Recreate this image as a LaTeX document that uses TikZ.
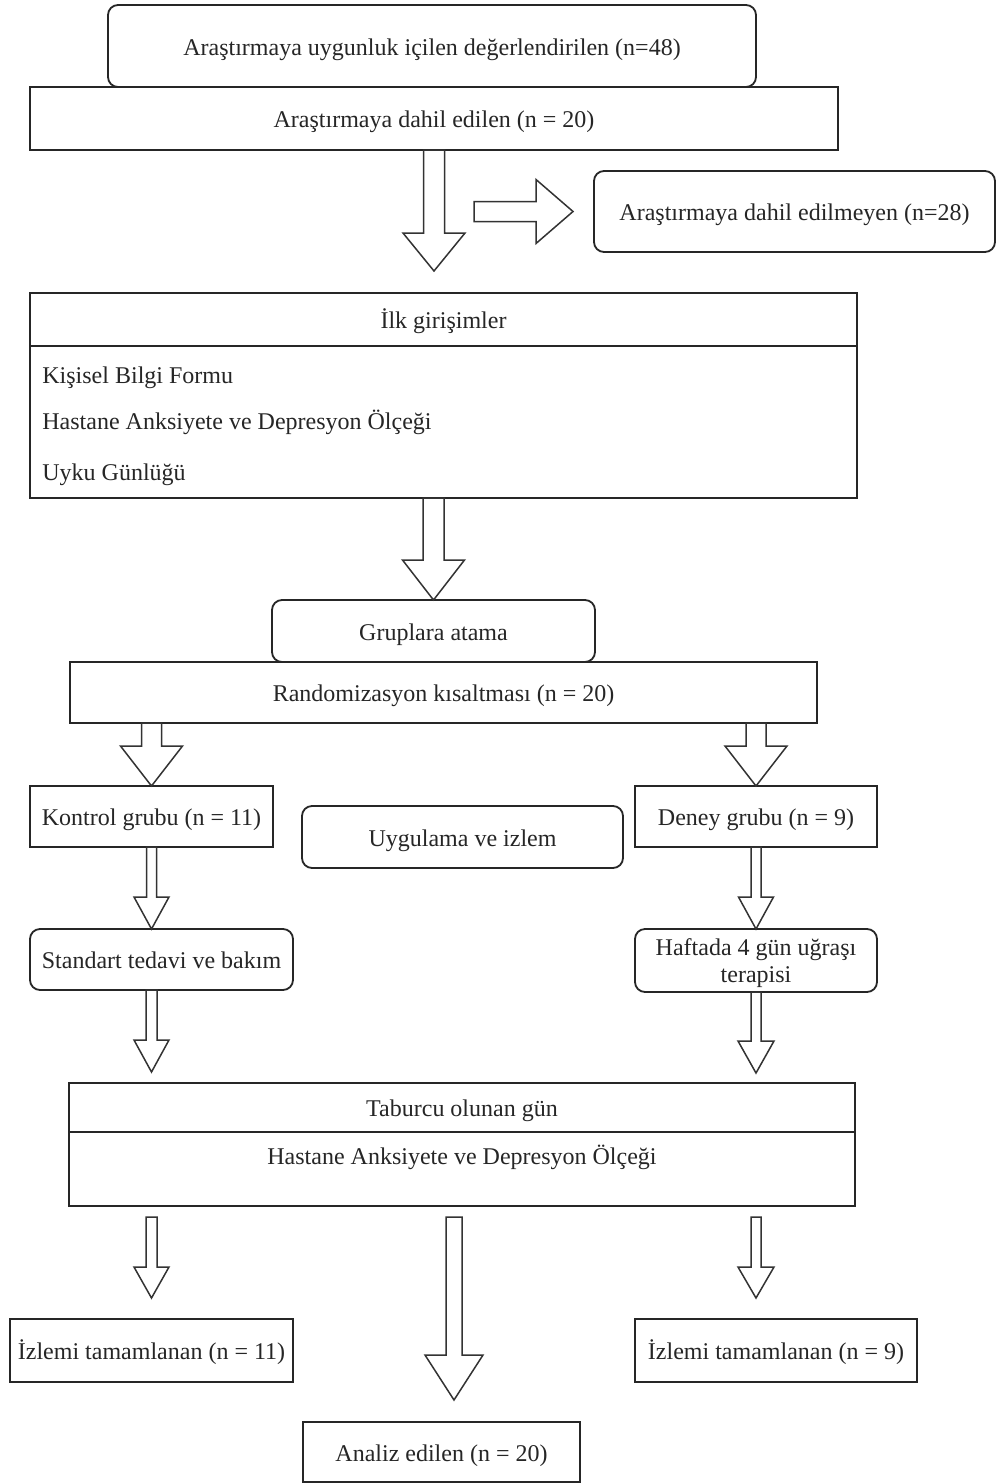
\documentclass[tikz,border=0pt]{standalone}
\usepackage{fontspec}
\setmainfont{Liberation Serif}
\usetikzlibrary{calc}
\usetikzlibrary{positioning}

% hollow block arrows: start, tip, head length, shaft half width, head half width
\newcommand{\hollowdown}[5]{%
    \draw[hollow] ($(#1)+(-#4,0)$) -- ($(#2)+(-#4,-#3)$) -- ($(#2)+(-#5,-#3)$) -- (#2)
        -- ($(#2)+(#5,-#3)$) -- ($(#2)+(#4,-#3)$) -- ($(#1)+(#4,0)$) -- cycle;}
\newcommand{\hollowright}[5]{%
    \draw[hollow] ($(#1)+(0,-#4)$) -- ($(#2)+(-#3,-#4)$) -- ($(#2)+(-#3,-#5)$) -- (#2)
        -- ($(#2)+(-#3,#5)$) -- ($(#2)+(-#3,#4)$) -- ($(#1)+(0,#4)$) -- cycle;}

\begin{document}
\begin{tikzpicture}[x=0.5pt, y=-0.5pt,
        every node/.style={font=\fontsize{12pt}{13.5pt}\selectfont, text=black!85},
        box/.style={rectangle, draw=black!85, line width=0.9pt, fill=white, inner sep=0pt, outer sep=0pt, text height=9pt, text depth=0pt},
        roundbox/.style={box, rounded corners=5pt},
        item/.style={anchor=west, inner sep=0pt, text height=9pt, text depth=0pt},
        hollow/.style={draw=black!80, line width=0.75pt, fill=white, line join=miter}]
            \fill[white] (0,0) rectangle (996,1484);
            \useasboundingbox (0,0) rectangle (996,1484);

            % eligibility
            \node[roundbox, minimum width=324pt, minimum height=41pt] (uygun) at (432,46) {Araştırmaya uygunluk içilen değerlendirilen (n=48)};
            \node[box, minimum width=404pt, minimum height=31.5pt] (dahil) at (434,118.5) {Araştırmaya dahil edilen (n = 20)};
            \node[roundbox, minimum width=200.5pt, minimum height=40.5pt] (disari) at (794.5,211.5) {Araştırmaya dahil edilmeyen (n=28)};

            % first measurements
            \node[box, minimum width=413.5pt, minimum height=26.5pt] (ilkhead) at (443.5,319.5) {İlk girişimler};
            \node[box, minimum width=413.5pt, minimum height=76pt, below=0pt of ilkhead] (ilkbody) {};
            \node[item] (kisisel) at (42,374) {Kişisel Bilgi Formu};
            \node[item] (hads1) at (42,420) {Hastane Anksiyete ve Depresyon Ölçeği};
            \node[item] (uyku) at (42,471) {Uyku Günlüğü};

            % allocation
            \node[roundbox, minimum width=161.5pt, minimum height=31pt] (gruplara) at (433.5,631) {Gruplara atama};
            \node[box, minimum width=373.5pt, minimum height=30.5pt] (random) at (443.5,692.5) {Randomizasyon kısaltması (n = 20)};
            \node[box, minimum width=121.5pt, minimum height=30.5pt] (kontrol) at (151.5,816.5) {Kontrol grubu (n = 11)};
            \node[box, minimum width=121pt, minimum height=30.5pt] (deney) at (756,816.5) {Deney grubu (n = 9)};
            \node[roundbox, minimum width=160.5pt, minimum height=31pt] (uygulama) at (462.5,837) {Uygulama ve izlem};
            \node[roundbox, minimum width=131.5pt, minimum height=30.5pt] (standart) at (161.5,959.5) {Standart tedavi ve bakım};
            \node[roundbox, minimum width=121pt, minimum height=31.5pt, align=center, text height=] (haftada) at (756,960.5) {Haftada 4 gün uğraşı\\terapisi};

            % discharge
            \node[box, minimum width=393pt, minimum height=24.5pt] (tabhead) at (462,1107.5) {Taburcu olunan gün};
            \node[box, minimum width=393pt, minimum height=37pt, below=0pt of tabhead] (tabbody) {};
            \node (hads2) at (462,1157) {Hastane Anksiyete ve Depresyon Ölçeği};

            % follow-up and analysis
            \node[box, minimum width=141.5pt, minimum height=31.5pt] (izlemA) at (151.5,1350.5) {İzlemi tamamlanan (n = 11)};
            \node[box, minimum width=141pt, minimum height=31.5pt] (izlemB) at (776,1350.5) {İzlemi tamamlanan (n = 9)};
            \node[box, minimum width=138.5pt, minimum height=30pt] (analiz) at (441.5,1452) {Analiz edilen (n = 20)};

            % arrows
            \coordinate (a1tip) at ($(dahil.south)+(0,121)$);
            \hollowdown{dahil.south}{a1tip}{38}{10.5}{31}
            \coordinate (b1tip) at ($(disari.west)+(-21,0)$);
            \coordinate (b1start) at ($(b1tip)+(-99,0)$);
            \hollowright{b1start}{b1tip}{37}{10}{32}
            \hollowdown{ilkbody.south -| gruplara.north}{gruplara.north}{40}{10.5}{31}
            \hollowdown{random.south -| kontrol.north}{kontrol.north}{40}{10}{31}
            \hollowdown{random.south -| deney.north}{deney.north}{40}{10}{31}
            \hollowdown{kontrol.south}{kontrol.south |- standart.north}{32}{5}{17.5}
            \hollowdown{deney.south}{haftada.north}{32}{5}{17.5}
            \coordinate (a6tip) at ($(kontrol.south |- tabhead.north)+(0,-11)$);
            \hollowdown{kontrol.south |- standart.south}{a6tip}{32}{5.5}{17.5}
            \coordinate (a7tip) at ($(haftada.south |- tabhead.north)+(0,-10)$);
            \hollowdown{haftada.south}{a7tip}{32}{5}{18}
            \coordinate (a8start) at ($(tabbody.south -| izlemA.north)+(0,11)$);
            \coordinate (a8tip) at ($(izlemA.north)+(0,-21)$);
            \hollowdown{a8start}{a8tip}{31}{5.5}{17.5}
            \coordinate (a9start) at ($(tabbody.south -| deney.south)+(0,11)$);
            \coordinate (a9tip) at ($(a9start |- izlemB.north)+(0,-21)$);
            \hollowdown{a9start}{a9tip}{31}{5}{18}
            \coordinate (a10start) at ($(tabbody.south)+(-8,11)$);
            \coordinate (a10tip) at ($(a10start |- analiz.north)+(0,-22)$);
            \hollowdown{a10start}{a10tip}{45}{8}{29}
        \end{tikzpicture}
\end{document}
